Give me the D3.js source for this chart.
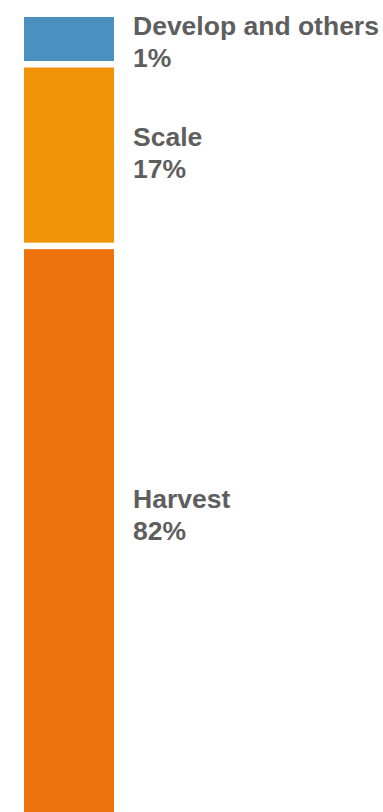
<!DOCTYPE html>
<html>
<head>
<meta charset="utf-8">
<script src="https://cdn.jsdelivr.net/npm/d3@7"></script>
<style>
  html, body { margin: 0; padding: 0; background: #fff; overflow: hidden; }
</style>
</head>
<body>
<div id="chart"></div>
<script>
// segments, top to bottom
const categories = ["Develop and others", "Scale", "Harvest"];
const shares = [1, 17, 82];
const colors = ["#4a91c0", "#f29307", "#ef730c"];

const width = 383;
const height = 812;
const margin = { top: 17, left: 24 };
const barWidth = 90;
const gap = 6.5;
const minHeight = 44; // tiny shares still get a readable block
const lineHeight = 32;

const svg = d3
  .select("#chart")
  .append("svg")
  .attr("width", width)
  .attr("height", height);

// segment length grows slower than the share (the original is not linear)
const h = d3
  .scalePow()
  .exponent(0.742)
  .domain([0, d3.max(shares)])
  .range([0, 563]);

const heights = shares.map((d) => Math.max(minHeight, h(d)));
let cursor = margin.top;
const segments = categories.map((c, i) => {
  const s = { name: c, share: shares[i], color: colors[i], y: cursor, h: heights[i] };
  cursor += heights[i] + gap;
  return s;
});

svg
  .selectAll("rect")
  .data(segments)
  .enter()
  .append("rect")
  .attr("x", margin.left)
  .attr("y", (d) => d.y)
  .attr("width", barWidth)
  .attr("height", (d) => d.h)
  .attr("fill", (d) => d.color);

const labels = svg
  .selectAll("text.label")
  .data(segments)
  .enter()
  .append("text")
  .attr("class", "label")
  .attr("x", margin.left + barWidth + 19)
  .attr("y", (d) => d.y + d.h * 0.465 - 2.5)
  .attr("font-family", "'Liberation Sans', Arial, Helvetica, sans-serif")
  .attr("font-weight", "bold")
  .attr("font-size", "26.5px")
  .attr("fill", "#5e5e5e");

labels.append("tspan").text((d) => d.name);
labels
  .append("tspan")
  .attr("x", margin.left + barWidth + 19)
  .attr("dy", lineHeight)
  .text((d) => d.share + "%");
</script>
</body>
</html>
